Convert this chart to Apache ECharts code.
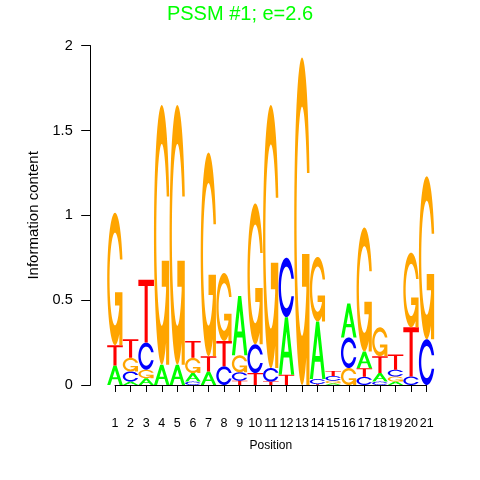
<!DOCTYPE html>
<html><head><meta charset="utf-8">
<script src="https://cdn.jsdelivr.net/npm/echarts@6/dist/echarts.min.js"></script>
<style>html,body{margin:0;padding:0;background:#fff}#c{width:480px;height:480px}</style>
</head><body><div id="c"></div>
<script>
// ---------------- data ----------------
const titleText = 'PSSM #1; e=2.6';
const positions = [1,2,3,4,5,6,7,8,9,10,11,12,13,14,15,16,17,18,19,20,21];
const letters = ['A','C','G','T'];
const A = [0.115,0.02,0.04,0.12,0.12,0.05,0.08,0,0.35,0,0,0.34,0,0.34,0.01,0.20,0.10,0.05,0.02,0,0];
const C = [0,0.06,0.16,0,0,0.02,0,0.11,0.05,0.17,0.08,0.35,0,0.03,0.028,0.18,0.048,0.02,0.04,0.05,0.27];
const G = [0.78,0.08,0.05,1.53,1.53,0.09,1.20,0.40,0.10,0.83,1.55,0,1.93,0.38,0.015,0.10,0.73,0.17,0.03,0.44,0.96];
const T = [0.12,0.11,0.37,0,0,0.10,0.09,0.15,0.025,0.07,0.02,0.06,0,0.005,0.03,0,0.05,0.10,0.09,0.29,0];
const yTicks = [0, 0.5, 1, 1.5, 2];
const yTickLabels = ['0', '0.5', '1', '1.5', '2'];

// ---------------- styles ----------------
const colors = {A:'#00ff00', C:'#0000ff', G:'#ffa500', T:'#ff0000'};
const FONT = 'Liberation Sans, Arial, Helvetica, sans-serif';

// ---------------- glyph outlines (unit box, y up) ----------------
function arc(r, a0, a1, n){
  const pts = [];
  for (let i = 0; i < n; i++){
    const a = a0 + (a1 - a0) * i / (n - 1);
    pts.push([0.5 + r * Math.sin(a), 0.5 + r * Math.cos(a)]);
  }
  return pts;
}
const OL = arc(0.5, Math.PI/2 + 0.3, 1.5*Math.PI, 70);
const yCut = OL[0][1];
const aCut = Math.acos((yCut - 0.5) / 0.35);
const IL = arc(0.35, aCut, 1.5*Math.PI, 70);
const mir = p => [p[0], 1 - p[1]];
const ring = [].concat(OL, OL.slice().reverse().map(mir), IL.map(mir), IL.slice().reverse());
const r1 = OL[0][0];
const gAdd = [[r1,0.4],[0.5,0.4],[0.5,0.3],[r1-0.2,0.3],[r1-0.2,0],[r1,0]];
const GLYPHS = {
  A: [{p:[[0,0],[0.4,1],[0.6,1],[1,0],[0.8,0],[0.68,0.3],[0.32,0.3],[0.2,0]]},
      {p:[[0.36,0.4],[0.64,0.4],[0.5,0.75]], hole:true}],
  C: [{p:ring}],
  G: [{p:ring},{p:gAdd}],
  T: [{p:[[0,1],[1,1],[1,0.9],[0.6,0.9],[0.6,0],[0.4,0],[0.4,0.9],[0,0.9]]}]
};
function area(p){ let s=0; for(let i=0;i<p.length;i++){const a=p[i],b=p[(i+1)%p.length]; s+=a[0]*b[1]-b[0]*a[1];} return s; }
Object.keys(GLYPHS).forEach(k => GLYPHS[k].forEach(g => {
  const a = area(g.p);
  if ((g.hole && a > 0) || (!g.hole && a < 0)) g.p = g.p.slice().reverse();
}));

// ---------------- stacked data ----------------
const byLetter = {A, C, G, T};
const stackData = [];
positions.forEach((pos, i) => {
  const items = letters.map((L, li) => ({L, li, v: byLetter[L][i]})).filter(o => o.v > 0);
  items.sort((a, b) => a.v - b.v);
  let base = 0;
  items.forEach(o => { stackData.push([pos, base, base + o.v, o.li]); base += o.v; });
});

function renderItem(params, api){
  const pos = api.value(0), y0 = api.value(1), y1 = api.value(2), L = letters[api.value(3)];
  const bl = api.coord([pos - 0.5, y0]);
  const tr = api.coord([pos + 0.5, y1]);
  const w = tr[0] - bl[0], h = tr[1] - bl[1];
  const d = GLYPHS[L].map(g => 'M' + g.p.map(q => (bl[0] + q[0]*w).toFixed(2) + ',' + (bl[1] + q[1]*h).toFixed(2)).join('L') + 'Z').join('');
  return {type:'path', shape:{pathData:d}, style:{fill:colors[L], stroke:null}};
}

const chart = echarts.init(document.getElementById('c'), null, {renderer:'canvas'});
chart.setOption({
  animation:false,
  backgroundColor:'#fff',
  title:{text:titleText, left:'center', top:-1, textStyle:{color:'#00ff00', fontSize:20, fontWeight:'normal', fontFamily:FONT}},
  grid:[
    {left:107.2, top:45.7, width:327.3, height:339.3, outerBoundsMode:'none'},
    {left:115, top:45.7, width:311.7, height:339.3, outerBoundsMode:'none'}
  ],
  xAxis:[
    {gridIndex:0, type:'value', min:0.5, max:21.5, show:false},
    {gridIndex:1, type:'value', min:positions[0], max:positions[positions.length-1], interval:1, offset:16.7,
     axisLine:{show:true, lineStyle:{color:'#000', width:1}},
     axisTick:{show:true, length:7, lineStyle:{color:'#000'}},
     axisLabel:{margin:15, fontSize:12.5, color:'#000', fontFamily:FONT},
     splitLine:{show:false},
     name:'Position', nameLocation:'middle', nameGap:38,
     nameTextStyle:{fontSize:12, color:'#000', fontFamily:FONT}}
  ],
  yAxis:[
    {gridIndex:0, type:'value', min:yTicks[0], max:yTicks[yTicks.length-1], interval:0.5, offset:16.5,
     axisLine:{show:true, lineStyle:{color:'#000', width:1}},
     axisTick:{show:true, length:9.5, lineStyle:{color:'#000'}},
     axisLabel:{margin:18, fontSize:14.5, color:'#000', fontFamily:FONT,
       formatter: v => { const k = yTicks.indexOf(v); return k >= 0 ? yTickLabels[k] : ''; }},
     splitLine:{show:false},
     name:'Information content', nameLocation:'middle', nameGap:44,
     nameTextStyle:{fontSize:15, color:'#000', fontFamily:FONT}},
    {gridIndex:1, type:'value', min:0, max:2, show:false}
  ],
  series:[{
    type:'custom', xAxisIndex:0, yAxisIndex:0, renderItem, data:stackData, clip:false
  }]
});
</script></body></html>
